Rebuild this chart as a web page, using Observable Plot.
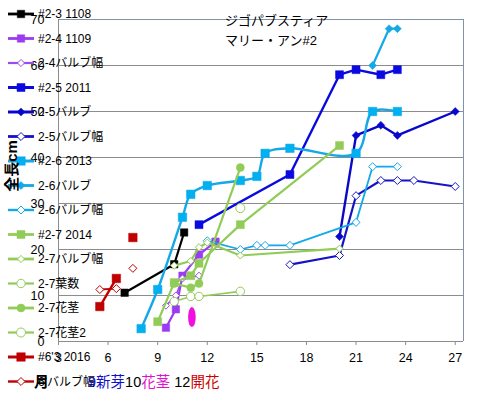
<!DOCTYPE html>
<html><head><meta charset="utf-8">
<script src="https://cdn.jsdelivr.net/npm/d3@7"></script>
<script src="https://cdn.jsdelivr.net/npm/@observablehq/plot@0.6"></script>
<style>
body{margin:0;background:#fff}
#chart{position:relative;width:484px;height:395px}
</style>
</head><body><div id="chart"></div>
<script>
// ---- data ----
const xTicks = [3, 6, 9, 12, 15, 18, 21, 24, 27];
const yTicks = [0, 10, 20, 30, 40, 50, 60, 70];
const titleLines = ["ジゴパブスティア", "マリー・アン#2"];
const yTitle = "全長cm";
const xTitle = "月";
const noteParts = ["9新芽", "10", "花茎", " 12", "開花"];

const x_2_3 = [7.0, 10.0, 10.6];
const y_2_3 = [10.6, 16.8, 23.7];
const x_2_4 = [9.5, 10.1, 10.5, 11.5, 12.5];
const y_2_4 = [3.0, 7.0, 14.3, 18.9, 21.7];
const x_2_4w = [9.5, 10.1, 10.5, 11.5];
const y_2_4w = [7.8, 10.0, 13.7, 14.3];
const x_2_5 = [11.5, 17.0, 20.0, 21.0, 22.5, 23.5];
const y_2_5 = [25.4, 36.3, 58.0, 59.1, 58.0, 59.1];
const x_2_5b = [20.0, 21.0, 22.5, 23.5, 27.0];
const y_2_5b = [22.8, 44.8, 47.0, 44.8, 50.0];
const x_2_5w = [17.0, 20.0, 21.0, 22.5, 23.5, 24.5, 27.0];
const y_2_5w = [16.7, 18.7, 31.7, 35.0, 35.0, 35.0, 33.7];
const x_2_6 = [8.0, 9.0, 10.5, 11.0, 12.0, 14.0, 15.0, 15.5, 17.0, 21.0, 22.0, 23.5];
const y_2_6 = [2.8, 11.3, 27.0, 32.0, 33.9, 35.0, 35.9, 40.9, 42.0, 40.9, 50.0, 50.0];
const x_2_6b = [22.0, 23.0, 23.5];
const y_2_6b = [60.0, 68.0, 68.0];
const x_2_6w = [12.0, 14.0, 15.0, 15.5, 17.0, 21.0, 22.0, 23.5];
const y_2_6w = [21.9, 20.0, 20.9, 20.9, 20.9, 25.9, 38.0, 38.0];
const x_2_7 = [9.0, 10.0, 11.0, 11.5, 14.0, 20.0];
const y_2_7 = [4.3, 12.8, 14.3, 17.0, 25.4, 42.6];
const x_2_7w = [10.0, 11.0, 11.5, 12.0, 14.0, 20.0];
const y_2_7w = [16.5, 17.5, 20.5, 21.5, 18.7, 20.2];
const x_2_7l = [10.0, 11.0, 11.5, 14.0];
const y_2_7l = [8.7, 9.8, 9.8, 10.9];
const x_2_7s = [10.0, 11.0, 11.5, 14.0];
const y_2_7s = [12.6, 11.7, 12.6, 37.8];
const x_2_7s2 = [14.0];
const y_2_7s2 = [29.0];
const x_6 = [5.5, 6.5, 7.0, 7.5];
const y_6 = [7.6, 13.7, null, 22.6];
const x_6w = [5.5, 6.5, 7.0, 7.5];
const y_6w = [11.3, 11.5, null, 15.9];

const budX = [11.1];
const budY = [5.2];

const seriesList = [
  ["#2-3 1108", x_2_3, y_2_3],
  ["#2-4 1109", x_2_4, y_2_4],
  ["2-4バルブ幅", x_2_4w, y_2_4w],
  ["#2-5 2011", x_2_5, y_2_5],
  ["2-5バルブ", x_2_5b, y_2_5b],
  ["2-5バルブ幅", x_2_5w, y_2_5w],
  ["#2-6 2013", x_2_6, y_2_6],
  ["2-6バルブ", x_2_6b, y_2_6b],
  ["2-6バルブ幅", x_2_6w, y_2_6w],
  ["#2-7 2014", x_2_7, y_2_7],
  ["2-7バルブ幅", x_2_7w, y_2_7w],
  ["2-7葉数", x_2_7l, y_2_7l],
  ["2-7花茎", x_2_7s, y_2_7s],
  ["2-7花茎2", x_2_7s2, y_2_7s2],
  ["#6'3 2016", x_6, y_6],
  ["6'バルブ幅", x_6w, y_6w]
];

// ---- styles ----
const styles = {
  "#2-3 1108":   {c:"#000000", f:"#000000", sym:"square",   r:4.2, w:2.2},
  "#2-4 1109":   {c:"#9A3CF0", f:"#9A3CF0", sym:"square",   r:4.2, w:2.2},
  "2-4バルブ幅": {c:"#9A4CF0", f:"#ffffff", sym:"diamond2", r:3.2, w:1.6},
  "#2-5 2011":   {c:"#0A0AE0", f:"#0A0AE0", sym:"square",   r:4.5, w:2.4},
  "2-5バルブ":   {c:"#0808CC", f:"#0808CC", sym:"diamond2", r:3.6, w:2.4},
  "2-5バルブ幅": {c:"#1414C4", f:"#ffffff", sym:"diamond2", r:3.6, w:2.2},
  "#2-6 2013":   {c:"#14A8E6", f:"#00B0F0", sym:"square",   r:4.8, w:2.4, curve:"catmull-rom"},
  "2-6バルブ":   {c:"#14A8E6", f:"#14A8E6", sym:"diamond2", r:3.6, w:2.2},
  "2-6バルブ幅": {c:"#14A8E6", f:"#ffffff", sym:"diamond2", r:3.6, w:1.8},
  "#2-7 2014":   {c:"#92CC58", f:"#92CC58", sym:"square",   r:4.5, w:2.2},
  "2-7バルブ幅": {c:"#92CC58", f:"#ffffff", sym:"diamond2", r:3.2, w:2.2},
  "2-7葉数":     {c:"#92CC58", f:"#ffffff", sym:"circle",   r:4.2, w:1.6},
  "2-7花茎":     {c:"#92CC58", f:"#92CC58", sym:"circle",   r:4.0, w:2.2},
  "2-7花茎2":    {c:"#92CC58", f:"#ffffff", sym:"circle",   r:4.5, w:1.6},
  "#6'3 2016":   {c:"#C00000", f:"#C00000", sym:"square",   r:4.8, w:2.4},
  "6'バルブ幅":  {c:"#C00000", f:"#ffffff", sym:"diamond2", r:3.6, w:1.8}
};

const FONT = "'Liberation Sans', 'Noto Sans CJK JP', sans-serif";

const seriesMarks = [];
for (const [name, xs, ys] of seriesList) {
  const s = styles[name];
  const rows = xs.map((x, i) => ({x, y: ys[i]}));
  seriesMarks.push(Plot.line(rows, {x: "x", y: "y", stroke: s.c, strokeWidth: s.w, curve: s.curve || "linear"}));
  seriesMarks.push(Plot.dot(rows, {x: "x", y: "y", symbol: s.sym, r: s.r, fill: s.f, stroke: s.c, strokeWidth: s.f === "#ffffff" ? 1 : 0.5}));
}

const svg = Plot.plot({
  width: 484, height: 395,
  marginLeft: 58, marginRight: 21, marginTop: 19, marginBottom: 54,
  x: {domain: [3, 27.5], label: null},
  y: {domain: [0, 70], label: null},
  style: {fontFamily: FONT, fontSize: "12px", color: "#000", background: "#fff"},
  marks: [
    Plot.ruleY(yTicks.filter(d => d > 0 && d < 70), {stroke: "#8c8c8c", strokeWidth: 1, strokeOpacity: 1}),
    Plot.ruleY([70], {stroke: "#7f93ab", strokeWidth: 1}),
    Plot.ruleX([27.5], {stroke: "#7f93ab", strokeWidth: 1}),
    Plot.ruleX([3], {stroke: "#8c8c8c", strokeWidth: 1}),
    Plot.ruleY([0], {stroke: "#8c8c8c", strokeWidth: 1}),
    Plot.axisX(xTicks, {tickSize: 4, tickPadding: 8, stroke: "#8c8c8c", label: null, fontSize: 12.5}),
    Plot.axisY(yTicks, {tickSize: 0, tickPadding: 14, label: null, fontSize: 12.5}),
    ...seriesMarks
  ]
});

const root = d3.select(svg);
const xs = svg.scale("x"), ys = svg.scale("y");

// magenta bud ellipse annotation
budX.forEach((bx, i) => {
  root.append("ellipse")
    .attr("cx", xs.apply(bx)).attr("cy", ys.apply(budY[i]))
    .attr("rx", 3.8).attr("ry", 10).attr("fill", "#F010E0");
});

// title
const tg = root.append("g").attr("font-family", FONT).attr("font-size", 13).attr("text-anchor", "start");
titleLines.forEach((t, i) => {
  tg.append("text").attr("x", 225).attr("y", 25 + i * 20).text(t);
});

// legend
const lg = root.append("g").attr("font-family", FONT).attr("font-size", 12).attr("text-anchor", "start");
const symMap = {square: d3.symbolSquare, diamond2: d3.symbolDiamond2, circle: d3.symbolCircle};
seriesList.forEach(([name], i) => {
  const s = styles[name];
  const y = 14 + i * 24.5;
  const g = lg.append("g");
  g.append("line").attr("x1", 8).attr("x2", 34).attr("y1", y).attr("y2", y)
    .attr("stroke", s.c).attr("stroke-width", s.w + 0.6);
  g.append("path").attr("transform", `translate(21,${y})`)
    .attr("d", d3.symbol(symMap[s.sym], Math.PI * s.r * s.r)())
    .attr("fill", s.f).attr("stroke", s.c).attr("stroke-width", s.f === "#ffffff" ? 1 : 0.5);
  g.append("text").attr("x", 38).attr("y", y).attr("dy", "0.36em").text(name);
});

// axis titles
root.append("text").attr("transform", "translate(17,166) rotate(-90)")
  .attr("text-anchor", "middle").attr("font-family", FONT).attr("font-size", 15)
  .attr("font-weight", "bold").text(yTitle);
root.append("text").attr("x", 34).attr("y", 387).attr("font-family", FONT).attr("text-anchor", "start")
  .attr("font-size", 15).attr("font-weight", "bold").text(xTitle);

// colored note
const noteColors = ["#1010C8", "#000000", "#E010D0", "#000000", "#D00000"];
const nt = root.append("text").attr("x", 88).attr("y", 387).attr("font-family", FONT)
  .attr("font-size", 14.5).attr("text-anchor", "start");
noteParts.forEach((p, i) => nt.append("tspan").attr("fill", noteColors[i]).text(p));

document.getElementById("chart").appendChild(svg);
</script>
</body></html>
